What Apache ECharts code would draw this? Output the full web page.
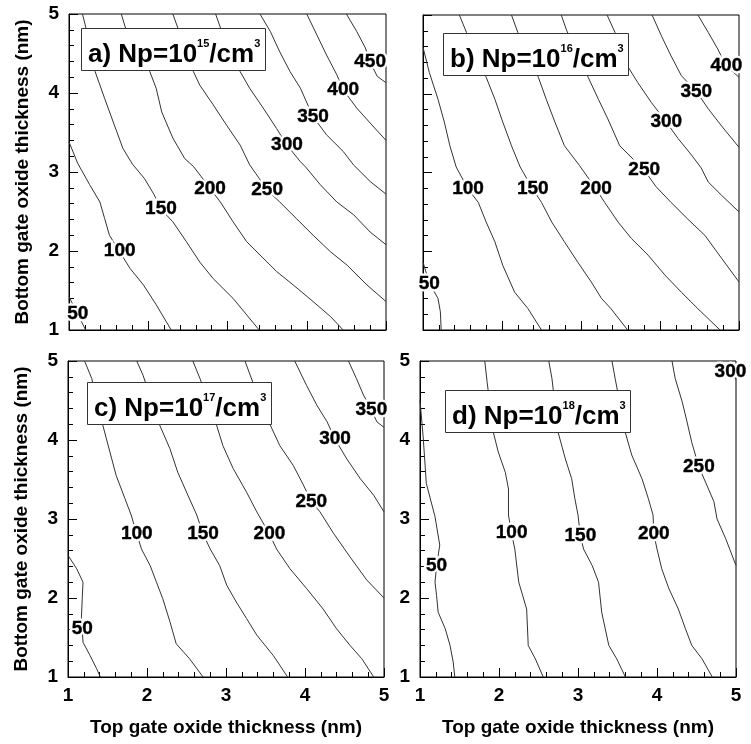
<!DOCTYPE html>
<html>
<head>
<meta charset="utf-8">
<script src="https://cdn.jsdelivr.net/npm/echarts@6/dist/echarts.min.js"></script>
<style>
html,body{margin:0;padding:0;background:#fff;}
#chart{width:751px;height:744px;}
</style>
</head>
<body>
<div id="chart"></div>
<script>
// ---------- DATA ----------
const xTicks = [1, 2, 3, 4, 5];
const yTicks = [1, 2, 3, 4, 5];
const xName = 'Top gate oxide thickness (nm)';
const yName = 'Bottom gate oxide thickness (nm)';
const panelTitles = ['a) Np=10|15|/cm|3', 'b) Np=10|16|/cm|3', 'c) Np=10|17|/cm|3', 'd) Np=10|18|/cm|3'];

// Panel a) Np=1e15
const levelsA = [50, 100, 150, 200, 250, 300, 350, 400, 450];
const linesA = [
  [[1.0,1.42],[1.06,1.3],[1.13,1.16],[1.21,1.0]],
  [[1.0,3.38],[1.11,3.11],[1.26,2.84],[1.39,2.62],[1.45,2.41],[1.51,2.20],[1.64,1.99],[1.77,1.78],[1.94,1.57],[2.10,1.32],[2.29,1.0]],
  [[1.17,5.0],[1.22,4.8],[1.33,4.27],[1.45,3.93],[1.57,3.60],[1.68,3.30],[1.80,3.10],[1.95,2.92],[2.07,2.72],[2.16,2.53],[2.31,2.37],[2.48,2.12],[2.65,1.86],[2.82,1.65],[3.07,1.40],[3.40,1.0]],
  [[1.66,5.0],[1.72,4.8],[2.02,4.27],[2.10,4.06],[2.17,3.76],[2.31,3.43],[2.46,3.17],[2.57,3.07],[2.70,2.90],[2.78,2.79],[2.91,2.62],[3.07,2.37],[3.24,2.12],[3.41,1.95],[3.62,1.74],[3.83,1.57],[4.08,1.36],[4.30,1.17],[4.46,1.0]],
  [[2.31,5.0],[2.40,4.75],[2.57,4.27],[2.65,4.10],[2.82,3.85],[2.99,3.59],[3.16,3.34],[3.28,3.09],[3.40,2.92],[3.50,2.77],[3.66,2.62],[3.87,2.41],[4.08,2.20],[4.30,1.99],[4.51,1.82],[4.76,1.57],[5.0,1.36]],
  [[2.85,5.0],[2.92,4.8],[3.16,4.27],[3.28,4.06],[3.45,3.81],[3.62,3.55],[3.75,3.34],[3.92,3.13],[3.98,3.07],[4.17,2.84],[4.38,2.62],[4.59,2.46],[4.80,2.24],[5.0,2.08]],
  [[3.41,5.0],[3.54,4.78],[3.66,4.52],[3.79,4.27],[3.92,4.06],[4.08,3.70],[4.25,3.47],[4.46,3.26],[4.59,3.09],[4.80,2.88],[5.0,2.72]],
  [[4.0,5.0],[4.13,4.73],[4.25,4.48],[4.38,4.23],[4.46,4.04],[4.63,3.81],[4.80,3.62],[5.0,3.40]],
  [[4.5,5.0],[4.63,4.78],[4.74,4.57],[4.80,4.39],[4.89,4.21],[5.0,4.13]]
];
const labelPosA = [[1.11,1.21],[1.64,2.0],[2.16,2.53],[2.78,2.79],[3.50,2.77],[3.75,3.34],[4.08,3.70],[4.46,4.04],[4.80,4.39]];

// Panel b) Np=1e16
const levelsB = [50, 100, 150, 200, 250, 300, 350, 400];
const linesB = [
  [[1.0,1.86],[1.08,1.6],[1.19,1.40],[1.22,1.23],[1.23,1.0]],
  [[1.0,4.59],[1.08,4.27],[1.19,3.93],[1.27,3.64],[1.34,3.34],[1.42,3.07],[1.57,2.79],[1.70,2.62],[1.80,2.37],[1.91,2.12],[2.01,1.82],[2.16,1.48],[2.33,1.27],[2.50,1.0]],
  [[1.46,5.0],[1.55,4.78],[1.80,4.21],[1.91,3.93],[2.01,3.64],[2.12,3.34],[2.23,3.07],[2.39,2.79],[2.50,2.62],[2.63,2.37],[2.79,2.12],[2.96,1.86],[3.13,1.61],[3.26,1.40],[3.38,1.27],[3.59,1.0]],
  [[2.12,5.0],[2.20,4.78],[2.46,4.21],[2.56,3.93],[2.67,3.64],[2.79,3.34],[2.98,3.09],[3.19,2.79],[3.30,2.62],[3.47,2.37],[3.64,2.16],[3.85,1.95],[4.06,1.70],[4.27,1.48],[4.48,1.27],[4.76,1.0]],
  [[2.75,5.0],[2.82,4.8],[3.09,4.21],[3.22,3.93],[3.34,3.68],[3.49,3.34],[3.80,3.03],[3.95,2.82],[4.14,2.62],[4.35,2.41],[4.57,2.20],[4.78,1.91],[5.0,1.61]],
  [[3.33,5.0],[3.43,4.78],[3.51,4.61],[3.59,4.35],[3.72,4.14],[3.89,3.89],[4.08,3.64],[4.23,3.43],[4.40,3.22],[4.52,3.06],[4.61,2.88],[4.78,2.71],[5.0,2.50]],
  [[3.90,5.0],[4.02,4.73],[4.14,4.48],[4.27,4.23],[4.46,4.03],[4.61,3.81],[4.78,3.59],[5.0,3.32]],
  [[4.48,5.0],[4.61,4.78],[4.73,4.57],[4.84,4.35],[5.0,4.21]]
];
const labelPosB = [[1.08,1.59],[1.57,2.79],[2.39,2.79],[3.19,2.79],[3.80,3.03],[4.08,3.64],[4.46,4.03],[4.84,4.35]];

// Panel c) Np=1e17
const levelsC = [50, 100, 150, 200, 250, 300, 350];
const linesC = [
  [[1.0,2.54],[1.11,2.37],[1.19,2.20],[1.18,1.99],[1.17,1.75],[1.18,1.61],[1.19,1.44],[1.28,1.27],[1.36,1.11],[1.41,1.0]],
  [[1.21,5.0],[1.30,4.78],[1.44,4.19],[1.53,3.85],[1.61,3.55],[1.72,3.26],[1.80,3.05],[1.87,2.81],[1.93,2.62],[2.04,2.41],[2.12,2.20],[2.20,1.99],[2.29,1.70],[2.37,1.42],[2.54,1.23],[2.71,1.0]],
  [[1.87,5.0],[1.95,4.82],[2.16,4.19],[2.29,3.89],[2.39,3.59],[2.50,3.34],[2.63,3.05],[2.71,2.81],[2.80,2.62],[2.92,2.41],[3.01,2.16],[3.13,1.95],[3.26,1.74],[3.39,1.53],[3.60,1.27],[3.78,1.0]],
  [[2.58,5.0],[2.67,4.78],[2.88,4.19],[2.96,3.93],[3.09,3.64],[3.26,3.34],[3.39,3.09],[3.55,2.81],[3.64,2.62],[3.81,2.37],[4.02,2.12],[4.23,1.86],[4.40,1.61],[4.57,1.40],[4.72,1.23],[4.87,1.0]],
  [[3.24,5.0],[3.34,4.73],[3.43,4.52],[3.56,4.19],[3.68,3.93],[3.85,3.68],[3.98,3.43],[4.08,3.22],[4.19,3.09],[4.36,2.82],[4.57,2.52],[4.78,2.23],[5.0,2.0]],
  [[3.87,5.0],[4.02,4.69],[4.15,4.44],[4.28,4.23],[4.38,4.01],[4.53,3.76],[4.70,3.51],[4.87,3.30],[5.0,3.09]],
  [[4.55,5.0],[4.65,4.78],[4.74,4.57],[4.84,4.38],[4.91,4.23],[5.0,4.16]]
];
const labelPosC = [[1.18,1.61],[1.87,2.81],[2.71,2.81],[3.55,2.81],[4.08,3.22],[4.38,4.01],[4.84,4.38]];

// Panel d) Np=1e18
const levelsD = [50, 100, 150, 200, 250, 300];
const linesD = [
  [[1.0,4.5],[1.04,4.04],[1.08,3.45],[1.19,3.03],[1.25,2.67],[1.21,2.41],[1.19,2.20],[1.21,2.03],[1.23,1.82],[1.32,1.61],[1.38,1.40],[1.42,1.19],[1.44,1.0]],
  [[1.82,5.0],[1.85,4.73],[1.93,4.09],[1.99,3.85],[2.08,3.59],[2.12,3.38],[2.12,3.05],[2.16,2.81],[2.20,2.62],[2.25,2.20],[2.35,1.86],[2.37,1.40],[2.46,1.23],[2.56,1.0]],
  [[2.63,5.0],[2.67,4.78],[2.75,4.09],[2.84,3.76],[2.92,3.51],[2.96,3.26],[3.0,3.05],[3.03,2.79],[3.07,2.62],[3.18,2.41],[3.26,2.20],[3.30,1.82],[3.39,1.40],[3.49,1.23],[3.60,1.0]],
  [[3.43,5.0],[3.47,4.78],[3.60,4.09],[3.68,3.81],[3.81,3.51],[3.89,3.26],[3.95,3.05],[3.96,2.81],[4.0,2.62],[4.06,2.37],[4.15,2.12],[4.27,1.86],[4.36,1.61],[4.44,1.40],[4.57,1.23],[4.70,1.0]],
  [[4.19,5.0],[4.23,4.78],[4.32,4.48],[4.38,4.23],[4.44,3.97],[4.53,3.66],[4.63,3.43],[4.72,3.22],[4.76,3.0],[4.87,2.75],[5.0,2.41]],
  [[4.90,5.0],[4.95,4.86],[5.0,4.76]]
];
const labelPosD = [[1.21,2.41],[2.16,2.82],[3.03,2.79],[3.96,2.81],[4.53,3.66],[4.93,4.86]];

// ---------- LAYOUT / STYLE ----------
const FONT = '"Liberation Sans", Arial, sans-serif';
const grids = [
  {left: 69, top: 14, width: 317, height: 316},
  {left: 423, top: 15, width: 316, height: 315},
  {left: 68, top: 361, width: 316, height: 316},
  {left: 420, top: 361, width: 316, height: 316}
];
const titlePos = [
  {left: 81, top: 28},
  {left: 443, top: 33},
  {left: 87, top: 382},
  {left: 445, top: 390}
];
const showXLabels = [false, false, true, true];
const showYLabels = [true, false, true, true];
const showXName = [false, false, true, true];
const showYName = [true, false, true, false];

const panels = [
  {levels: levelsA, lines: linesA, labels: labelPosA},
  {levels: levelsB, lines: linesB, labels: labelPosB},
  {levels: levelsC, lines: linesC, labels: labelPosC},
  {levels: levelsD, lines: linesD, labels: labelPosD}
];

function axisCommon(i, showLabel, name, isY) {
  const ticks = isY ? yTicks : xTicks;
  return {
    type: 'value', gridIndex: i, min: ticks[0], max: ticks[ticks.length - 1], interval: 1,
    axisLine: {show: true, onZero: false, lineStyle: {color: '#000', width: 1}},
    axisTick: {show: true, inside: true, length: 9, lineStyle: {color: '#000', width: 1}},
    minorTick: {show: true, splitNumber: 5, length: 5, lineStyle: {color: '#000', width: 1}},
    splitLine: {show: false},
    minorSplitLine: {show: false},
    axisLabel: {show: showLabel, fontSize: 19, fontWeight: 'bold', color: '#000', fontFamily: FONT, margin: isY ? 10 : 9},
    name: name || '',
    nameLocation: 'middle',
    nameGap: isY ? 37 : 41,
    nameRotate: isY ? 90 : 0,
    nameTextStyle: {fontSize: 19, fontWeight: 'bold', color: '#000', fontFamily: FONT}
  };
}

const xAxis = [], yAxis = [], series = [], title = [];
panels.forEach((p, i) => {
  xAxis.push(axisCommon(i, showXLabels[i], showXName[i] ? xName : '', false));
  yAxis.push(axisCommon(i, showYLabels[i], showYName[i] ? yName : '', true));
  p.lines.forEach((ln, k) => {
    series.push({
      type: 'line', xAxisIndex: i, yAxisIndex: i, name: 'p' + i + '_' + p.levels[k],
      data: ln, symbol: 'none', showSymbol: false, smooth: false,
      lineStyle: {color: '#333', width: 1}, silent: true, z: 2, clip: true
    });
  });
  const labelData = p.labels.map((pt, k) => [pt[0], pt[1], p.levels[k]]);
  // mask layer: white text with white halo to break lines under labels
  series.push({
    type: 'scatter', xAxisIndex: i, yAxisIndex: i, symbolSize: 0,
    itemStyle: {color: '#fff', opacity: 1},
    data: labelData,
    label: {
      show: true, position: 'inside', formatter: d => String(d.value[2]),
      fontSize: 19, fontWeight: 'bold', color: '#fff', fontFamily: FONT,
      textBorderColor: '#fff', textBorderWidth: 5, opacity: 1
    },
    silent: true, z: 8
  });
  // text layer
  series.push({
    type: 'scatter', xAxisIndex: i, yAxisIndex: i, symbolSize: 0,
    itemStyle: {color: '#000', opacity: 1},
    data: labelData,
    label: {
      show: true, position: 'inside', formatter: d => String(d.value[2]),
      fontSize: 19, fontWeight: 'bold', color: '#000', fontFamily: FONT,
      textBorderColor: '#000', textBorderWidth: 0.4, opacity: 1
    },
    silent: true, z: 10
  });
  const parts = panelTitles[i].split('|');
  title.push({
    left: titlePos[i].left, top: titlePos[i].top,
    text: '{m|' + parts[0] + '}{s|' + parts[1] + '}{m|' + parts[2] + '}{s|' + parts[3] + '}',
    padding: [4, 5, 3, 7],
    borderColor: '#333', borderWidth: 1, backgroundColor: '#fff',
    textStyle: {
      rich: {
        m: {fontSize: 26, fontWeight: 'bold', color: '#000', fontFamily: FONT, lineHeight: 36, verticalAlign: 'bottom'},
        s: {fontSize: 11, fontWeight: 'bold', color: '#000', fontFamily: FONT, lineHeight: 36, verticalAlign: 'top', padding: [6, 0, 0, 0]}
      }
    }
  });
});

const chart = echarts.init(document.getElementById('chart'), null, {renderer: 'canvas'});
chart.setOption({
  animation: false,
  backgroundColor: '#fff',
  title: title,
  grid: grids.map(g => Object.assign({show: true, borderColor: '#000', borderWidth: 1, backgroundColor: 'transparent', containLabel: false}, g)),
  xAxis: xAxis,
  yAxis: yAxis,
  series: series
});
</script>
</body>
</html>
